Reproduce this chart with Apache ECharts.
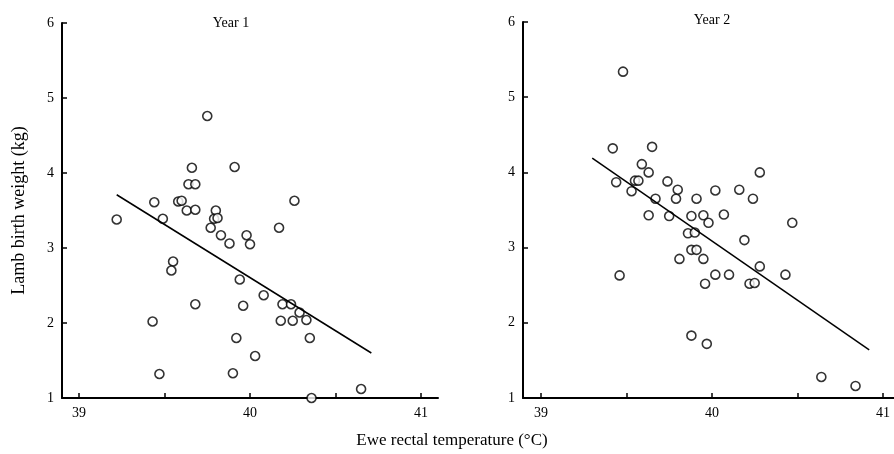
<!DOCTYPE html>
<html>
<head>
<meta charset="utf-8">
<script src="https://cdn.jsdelivr.net/npm/echarts@6/dist/echarts.min.js"></script>
<style>
  html, body { margin: 0; padding: 0; background: #fff; }
  #chart { width: 894px; height: 454px; }
</style>
</head>
<body>
<div id="chart"></div>
<script>
// Year 1 scatter: ewe rectal temperature (°C) vs lamb birth weight (kg)
const year1Temp = [39.22, 39.75, 39.66, 39.91, 39.64, 39.68, 39.44, 39.58, 39.60, 39.63,
  39.68, 39.80, 39.79, 39.81, 39.49, 40.26, 40.17, 39.77, 39.83, 39.88,
  39.98, 40.00, 39.55, 39.54, 39.94, 39.68, 40.08, 39.96, 40.19, 40.24,
  40.29, 39.43, 40.18, 40.25, 40.33, 39.92, 40.35, 40.03, 39.47, 39.90,
  40.65, 40.36];
const year1Weight = [3.38, 4.76, 4.07, 4.08, 3.85, 3.85, 3.61, 3.62, 3.63, 3.50,
  3.51, 3.50, 3.39, 3.40, 3.39, 3.63, 3.27, 3.27, 3.17, 3.06,
  3.17, 3.05, 2.82, 2.70, 2.58, 2.25, 2.37, 2.23, 2.25, 2.25,
  2.14, 2.02, 2.03, 2.03, 2.04, 1.80, 1.80, 1.56, 1.32, 1.33,
  1.12, 1.00];
const year1FitTemp = [39.22, 40.71];
const year1FitWeight = [3.71, 1.60];

// Year 2 scatter
const year2Temp = [39.48, 39.42, 39.65, 39.59, 39.63, 40.28, 39.44, 39.55, 39.57, 39.74,
  39.53, 39.80, 40.02, 40.16, 39.67, 39.79, 39.91, 40.24, 39.63, 39.75,
  39.88, 39.95, 40.07, 39.98, 40.47, 39.86, 39.90, 40.19, 39.88, 39.91,
  39.81, 39.95, 40.28, 39.46, 40.02, 40.10, 40.43, 39.96, 40.22, 40.25,
  39.88, 39.97, 40.64, 40.84];
const year2Weight = [5.34, 4.32, 4.34, 4.11, 4.00, 4.00, 3.87, 3.89, 3.89, 3.88,
  3.75, 3.77, 3.76, 3.77, 3.65, 3.65, 3.65, 3.65, 3.43, 3.42,
  3.42, 3.43, 3.44, 3.33, 3.33, 3.19, 3.20, 3.10, 2.97, 2.97,
  2.85, 2.85, 2.75, 2.63, 2.64, 2.64, 2.64, 2.52, 2.52, 2.53,
  1.83, 1.72, 1.28, 1.16];
const year2FitTemp = [39.30, 40.92];
const year2FitWeight = [4.19, 1.64];

const xTicks = [39, 39.5, 40, 40.5, 41];
const xLabels = [39, 40, 41];

const serif = "'Liberation Serif', 'DejaVu Serif', serif";

function pairs(xs, ys) {
  return xs.map((x, i) => [x, ys[i]]);
}

function xAxisFor(gridIndex, min, max) {
  return {
    type: "value",
    gridIndex: gridIndex,
    min: min,
    max: max,
    axisLine: { lineStyle: { color: "#000", width: 2 } },
    axisTick: { inside: true, length: 5, customValues: xTicks, lineStyle: { color: "#000", width: 1.5 } },
    axisLabel: { customValues: xLabels, margin: 8, color: "#000", fontFamily: serif, fontSize: 14 },
    splitLine: { show: false }
  };
}

function yAxisFor(gridIndex, name) {
  return {
    type: "value",
    gridIndex: gridIndex,
    min: 1,
    max: 6,
    interval: 1,
    name: name,
    nameLocation: "middle",
    nameRotate: 90,
    nameGap: 34,
    nameTextStyle: { color: "#000", fontFamily: serif, fontSize: 18 },
    axisLine: { show: true, lineStyle: { color: "#000", width: 2 } },
    axisTick: { inside: true, length: 5, lineStyle: { color: "#000", width: 1.5 } },
    axisLabel: { margin: 8, color: "#000", fontFamily: serif, fontSize: 14 },
    splitLine: { show: false }
  };
}

const dotStyle = { color: "#fff", borderColor: "#000", borderWidth: 1.6 };
const fitStyle = { color: "#000", width: 1.5 };

const chart = echarts.init(document.getElementById("chart"));
chart.setOption({
  animation: false,
  backgroundColor: "#fff",
  title: [
    { text: "Year 1", left: 226, top: 11, textAlign: "center",
      textStyle: { fontFamily: serif, fontSize: 14, fontWeight: "normal", color: "#000" } },
    { text: "Year 2", left: 707, top: 8, textAlign: "center",
      textStyle: { fontFamily: serif, fontSize: 14, fontWeight: "normal", color: "#000" } },
    { text: "Ewe rectal temperature (°C)", left: 447, top: 427, textAlign: "center",
      textStyle: { fontFamily: serif, fontSize: 17, fontWeight: "normal", color: "#000" } }
  ],
  grid: [
    { left: 62, top: 23, width: 376, height: 375 },
    { left: 523, top: 22, width: 371, height: 376 }
  ],
  xAxis: [xAxisFor(0, 38.9, 41.1), xAxisFor(1, 38.895, 41.065)],
  yAxis: [yAxisFor(0, "Lamb birth weight (kg)"), yAxisFor(1, "")],
  series: [
    { type: "scatter", xAxisIndex: 0, yAxisIndex: 0, symbol: "circle", symbolSize: 9,
      itemStyle: dotStyle, clip: false, data: pairs(year1Temp, year1Weight) },
    { type: "line", xAxisIndex: 0, yAxisIndex: 0, showSymbol: false,
      lineStyle: fitStyle, data: pairs(year1FitTemp, year1FitWeight) },
    { type: "scatter", xAxisIndex: 1, yAxisIndex: 1, symbol: "circle", symbolSize: 9,
      itemStyle: dotStyle, clip: false, data: pairs(year2Temp, year2Weight) },
    { type: "line", xAxisIndex: 1, yAxisIndex: 1, showSymbol: false,
      lineStyle: fitStyle, data: pairs(year2FitTemp, year2FitWeight) }
  ]
});
</script>
</body>
</html>
